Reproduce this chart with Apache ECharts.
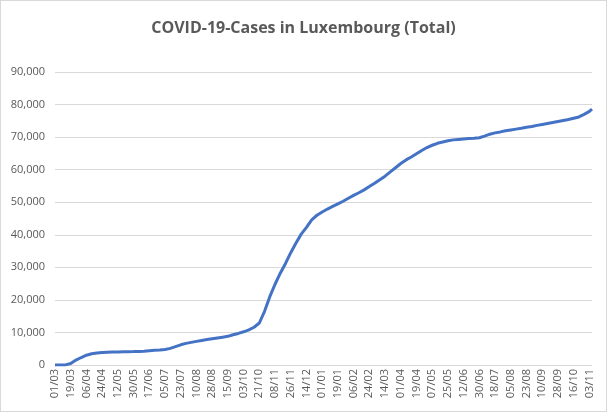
<!DOCTYPE html>
<html>
<head>
    <meta charset="utf-8">
    <title>COVID-19-Cases in Luxembourg (Total)</title>
    <script src="https://cdn.jsdelivr.net/npm/echarts@6/dist/echarts.min.js"></script>
    <style>
        body { margin: 0; background: #fff; }
        #main { width: 607px; height: 412px; box-sizing: border-box; border: 1px solid #d9d9d9; }
    </style>
</head>
<body>
    <div id="main"></div>
    <script type="text/javascript">
        // day index counted from 01/03/2020, sampled every 6 days
        var days = [0, 6, 12, 18, 24, 30, 36, 42, 48, 54, 60, 66, 72, 78, 84, 90, 96, 102, 108, 114,
            120, 126, 132, 138, 144, 150, 156, 162, 168, 174, 180, 186, 192, 198, 204, 210, 216, 222, 228, 234,
            240, 246, 252, 258, 264, 270, 276, 282, 288, 294, 300, 306, 312, 318, 324, 330, 336, 342, 348, 354,
            360, 366, 372, 378, 384, 390, 396, 402, 408, 414, 420, 426, 432, 438, 444, 450, 456, 462, 468, 474,
            480, 486, 492, 498, 504, 510, 516, 522, 528, 534, 540, 546, 552, 558, 564, 570, 576, 582, 588, 594,
            600, 606, 612, 615];
        var cases = [0, 0, 30, 450, 1500, 2300, 3000, 3450, 3700, 3850, 3950, 4000, 4020, 4060, 4100, 4130, 4180, 4250, 4380, 4500,
            4580, 4750, 5100, 5650, 6200, 6650, 6950, 7250, 7550, 7800, 8050, 8300, 8550, 8800, 9300, 9700, 10200, 10800, 11600, 12900,
            16500, 21000, 24800, 28200, 31200, 34500, 37500, 40200, 42300, 44600, 46000, 47000, 47900, 48700, 49500, 50300, 51200, 52100, 52900, 53800,
            54800, 55800, 56900, 58000, 59300, 60600, 61900, 63000, 63900, 64900, 65900, 66800, 67500, 68100, 68500, 68900, 69150, 69300, 69450, 69550,
            69650, 69800, 70300, 70900, 71300, 71600, 71950, 72200, 72450, 72700, 73000, 73250, 73600, 73900, 74200, 74500, 74800, 75100, 75400, 75800,
            76200, 77000, 77900, 78600];
        // one label every 18 days
        var tickLabels = ['01/03', '19/03', '06/04', '24/04', '12/05', '30/05', '17/06', '05/07', '23/07', '10/08',
            '28/08', '15/09', '03/10', '21/10', '08/11', '26/11', '14/12', '01/01', '19/01', '06/02',
            '24/02', '14/03', '01/04', '19/04', '07/05', '25/05', '12/06', '30/06', '18/07', '05/08',
            '23/08', '10/09', '28/09', '16/10', '03/11'];

        var points = days.map(function (d, i) { return [d, cases[i]]; });

        var myChart = echarts.init(document.getElementById('main'));

        var option = {
            animation: false,
            title: {
                text: 'COVID-19-Cases in Luxembourg (Total)',
                left: 'center',
                top: 14,
                textStyle: {
                    fontFamily: 'Open Sans',
                    fontSize: 16,
                    fontWeight: 'bold',
                    color: '#595959'
                }
            },
            grid: {
                left: 54,
                right: 14,
                top: 71,
                bottom: 46
            },
            xAxis: {
                type: 'value',
                min: 0,
                max: 615,
                interval: 18,
                axisLine: { show: false },
                axisTick: { show: false },
                splitLine: { show: false },
                axisLabel: {
                    rotate: 90,
                    margin: 4,
                    fontFamily: 'Open Sans',
                    fontSize: 11,
                    color: '#595959',
                    showMaxLabel: false,
                    formatter: function (v) {
                        var k = Math.round(v / 18);
                        return tickLabels[k] || '';
                    }
                }
            },
            yAxis: {
                type: 'value',
                min: 0,
                max: 90000,
                interval: 10000,
                axisLine: { show: false },
                axisTick: { show: false },
                splitLine: { lineStyle: { color: '#d9d9d9', width: 1 } },
                axisLabel: {
                    margin: 10,
                    fontFamily: 'Open Sans',
                    fontSize: 11,
                    color: '#595959',
                    formatter: function (v) {
                        return v.toLocaleString('en-US');
                    }
                }
            },
            series: [{
                name: 'Cases',
                type: 'line',
                data: points,
                showSymbol: false,
                lineStyle: { color: '#4472C4', width: 3 },
                itemStyle: { color: '#4472C4' }
            }]
        };

        myChart.setOption(option);
    </script>
</body>
</html>
